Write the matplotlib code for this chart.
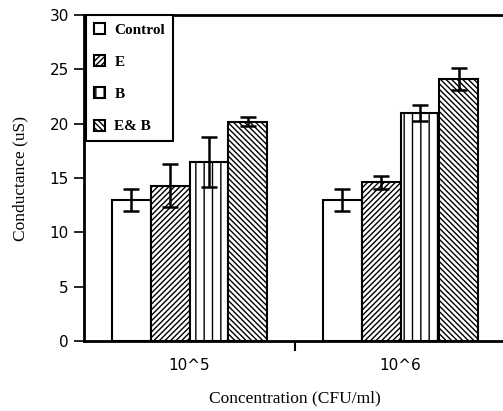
import numpy as np
import matplotlib
matplotlib.use('Agg')
import matplotlib.pyplot as plt

# data
groups = ['10^5', '10^6']
series = ['Control', 'E', 'B', 'E& B']
control = [13.0, 13.0]
e_vals = [14.3, 14.6]
b_vals = [16.5, 21.0]
eb_vals = [20.2, 24.1]
control_err = [1.0, 1.0]
e_err = [2.0, 0.6]
b_err = [2.3, 0.7]
eb_err = [0.4, 1.0]

values = [control, e_vals, b_vals, eb_vals]
errors = [control_err, e_err, b_err, eb_err]
hatches = [None, '//////', '||', '\\\\\\\\\\\\']

plt.rcParams['hatch.linewidth'] = 1.0

fig = plt.figure(figsize=(5.03, 4.11), dpi=100)
ax = fig.add_axes([0.167, 0.170, 0.839, 0.7932])

x = np.arange(len(groups))
w = 0.184
for i, (vals, errs) in enumerate(zip(values, errors)):
    pos = x + (i - 1.5) * w
    ax.bar(pos, vals, w, color='white', edgecolor='black', linewidth=1.5,
           hatch=hatches[i], label=series[i], zorder=2)
    ax.errorbar(pos, vals, yerr=errs, fmt='none', ecolor='black',
                elinewidth=1.8, capsize=6, capthick=1.8, zorder=3)

ax.set_xlim(-0.5, 1.5)
ax.set_ylim(0, 30)
ax.set_yticks(np.arange(0, 31, 5))
ax.tick_params(axis='y', direction='out', length=7, width=1.2, labelsize=11, pad=4)
ax.set_xticks([0.5])
ax.set_xticklabels([''])
ax.tick_params(axis='x', direction='out', length=7, width=1.5)
for xi, g in zip(x, groups):
    ax.text(xi, -2.2, g, ha='center', va='center', fontsize=11)

for s in ax.spines.values():
    s.set_linewidth(2)

ax.set_ylabel('Conductance (uS)', family='Liberation Serif', fontsize=12.5, labelpad=15)
ax.set_xlabel('Concentration (CFU/ml)', family='Liberation Serif', fontsize=12.5, labelpad=25)

leg = ax.legend(loc='upper left', bbox_to_anchor=(0.005, 1.0), fancybox=False,
                edgecolor='black', framealpha=1, borderaxespad=0,
                prop={'family': 'Liberation Serif', 'size': 11, 'weight': 'bold'},
                handlelength=0.75, handleheight=0.75, handletextpad=0.6,
                labelspacing=1.2, borderpad=0.5)
leg.get_frame().set_linewidth(1.5)

fig.savefig('out.png', dpi=100)
